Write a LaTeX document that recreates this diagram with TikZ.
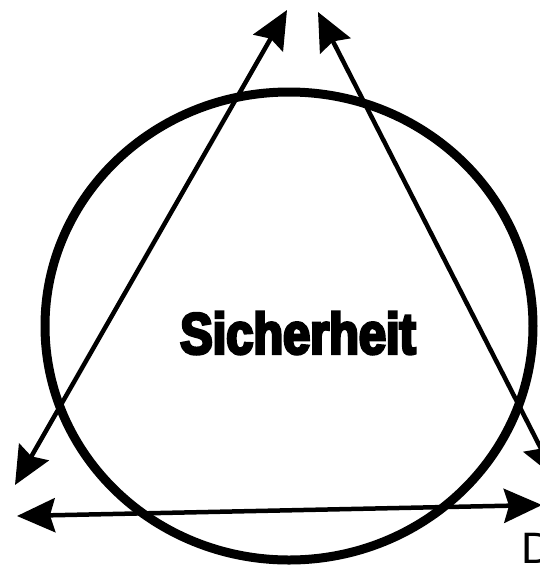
\documentclass[tikz,border=0pt]{standalone}
\usepackage{fontspec}
\setmainfont{Liberation Sans}
\newfontfamily\heavyfont[FakeBold=5,FakeStretch=0.84]{Liberation Sans Bold}
\usetikzlibrary{arrows.meta,shapes.geometric}
\begin{document}
\begin{tikzpicture}[x=1pt,y=-1pt,
  conn/.style={line width=4.5pt,{Stealth[length=38pt,width=34pt,inset=5pt]}-{Stealth[length=38pt,width=34pt,inset=5pt]}},
  ring/.style={line width=9pt}]
\useasboundingbox (0,0) rectangle (540,566);
\clip (0,0) rectangle (540,566);
\node[draw,ring,ellipse,minimum width=488pt,minimum height=468pt,inner sep=0pt] (circ) at (289,326) {};
\node (title) at (298,333) {\heavyfont\fontsize{58pt}{58pt}\selectfont Sicherheit};
\coordinate (a1) at (15,485);
\coordinate (a2) at (287,10);
\coordinate (b1) at (318,12);
\coordinate (b2) at (556,478);
\coordinate (c1) at (17,516);
\coordinate (c2) at (542,505);
\draw[conn] (a1) -- (a2);
\draw[conn] (b1) -- (b2);
\draw[conn] (c1) -- (c2);
\node[anchor=north west,inner sep=0pt,font=\fontsize{44pt}{44pt}\selectfont] (d) at (521,533) {D};
\end{tikzpicture}
\end{document}
